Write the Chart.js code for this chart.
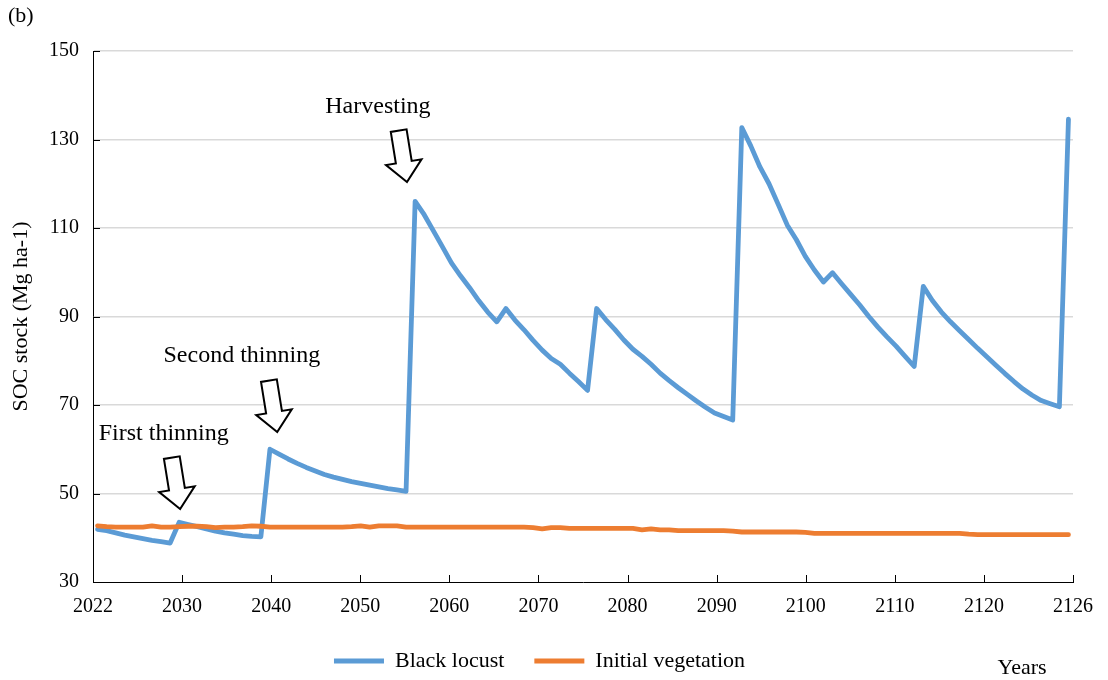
<!DOCTYPE html>
<html>
<head>
<meta charset="utf-8">
<script src="https://cdn.jsdelivr.net/npm/chart.js@4.4.1/dist/chart.umd.min.js"></script>
<style>
  html, body { margin: 0; padding: 0; background: #fff; }
</style>
</head>
<body>
<canvas id="grafico" width="1108" height="680"></canvas>
<script>
// simulated years (one point per year)
const anni = [
  2021, 2022, 2023, 2024, 2025, 2026, 2027, 2028, 2029, 2030,
  2031, 2032, 2033, 2034, 2035, 2036, 2037, 2038, 2039, 2040,
  2041, 2042, 2043, 2044, 2045, 2046, 2047, 2048, 2049, 2050,
  2051, 2052, 2053, 2054, 2055, 2056, 2057, 2058, 2059, 2060,
  2061, 2062, 2063, 2064, 2065, 2066, 2067, 2068, 2069, 2070,
  2071, 2072, 2073, 2074, 2075, 2076, 2077, 2078, 2079, 2080,
  2081, 2082, 2083, 2084, 2085, 2086, 2087, 2088, 2089, 2090,
  2091, 2092, 2093, 2094, 2095, 2096, 2097, 2098, 2099, 2100,
  2101, 2102, 2103, 2104, 2105, 2106, 2107, 2108, 2109, 2110,
  2111, 2112, 2113, 2114, 2115, 2116, 2117, 2118, 2119, 2120,
  2121, 2122, 2123, 2124, 2125, 2126, 2127, 2128
];

// SOC stock (Mg ha-1)
const blackLocust = [
  41.9, 41.6, 41.1, 40.6, 40.2, 39.8, 39.4, 39.1, 38.8, 43.5,
  43.0, 42.5, 42.0, 41.5, 41.1, 40.8, 40.5, 40.3, 40.2, 60.0,
  58.9, 57.8, 56.8, 55.9, 55.1, 54.3, 53.7, 53.2, 52.7, 52.3,
  51.9, 51.5, 51.1, 50.8, 50.5, 116.0, 113.0, 109.4, 105.8, 102.1,
  99.2, 96.5, 93.6, 91.0, 88.8, 91.8, 89.2, 87.0, 84.6, 82.4,
  80.5, 79.2, 77.2, 75.3, 73.3, 91.8, 89.3, 87.1, 84.7, 82.6,
  81.0, 79.2, 77.2, 75.5, 73.9, 72.4, 70.9, 69.5, 68.2, 67.4,
  66.6, 132.7, 128.5, 123.8, 120.0, 115.4, 110.7, 107.4, 103.6, 100.5,
  97.8, 99.9, 97.4, 95.0, 92.6, 90.0, 87.6, 85.4, 83.3, 81.0,
  78.7, 96.8, 93.6, 91.0, 88.8, 86.8, 84.8, 82.8, 80.9, 79.0,
  77.1, 75.3, 73.6, 72.2, 71.0, 70.3, 69.6, 134.6
];

const initialVegetation = [
  42.7, 42.5, 42.4, 42.4, 42.4, 42.4, 42.7, 42.4, 42.4, 42.5,
  42.6, 42.6, 42.5, 42.3, 42.4, 42.4, 42.5, 42.7, 42.6, 42.4,
  42.4, 42.4, 42.4, 42.4, 42.4, 42.4, 42.4, 42.4, 42.5, 42.7,
  42.4, 42.7, 42.7, 42.7, 42.4, 42.4, 42.4, 42.4, 42.4, 42.4,
  42.4, 42.4, 42.4, 42.4, 42.4, 42.4, 42.4, 42.4, 42.3, 42.0,
  42.3, 42.3, 42.1, 42.1, 42.1, 42.1, 42.1, 42.1, 42.1, 42.1,
  41.8, 42.0, 41.8, 41.8, 41.6, 41.6, 41.6, 41.6, 41.6, 41.6,
  41.5, 41.3, 41.3, 41.3, 41.3, 41.3, 41.3, 41.3, 41.2, 41.0,
  41.0, 41.0, 41.0, 41.0, 41.0, 41.0, 41.0, 41.0, 41.0, 41.0,
  41.0, 41.0, 41.0, 41.0, 41.0, 41.0, 40.8, 40.7, 40.7, 40.7,
  40.7, 40.7, 40.7, 40.7, 40.7, 40.7, 40.7, 40.7
];

// axis labels as printed on the original (evenly spaced marks)
const etichetteX = ["2022", "2030", "2040", "2050", "2060", "2070", "2080", "2090", "2100", "2110", "2120", "2126"];
const etichetteY = [30, 50, 70, 90, 110, 130, 150];

// management notes: text anchor and arrow tip, in data units
const noteTesto = ["First thinning", "Second thinning", "Harvesting"];
const noteAnno = [2028.3, 2036.9, 2051.9];
const noteValore = [63.5, 81.1, 137.4];
const frecciaAnno = [2030.1, 2040.8, 2055.1];
const frecciaValore = [46.5, 63.9, 120.4];

const FONT = '"Liberation Serif", "Times New Roman", serif';
const xMin = 2020.5, xMax = 2128.5;

function punti(valori) {
  return anni.map((a, i) => ({ x: a, y: valori[i] }));
}

const extra = {
  id: "extra",
  afterDraw(chart) {
    const ctx = chart.ctx;
    const xs = chart.scales.x, ys = chart.scales.y;
    const area = chart.chartArea;
    ctx.save();

    // tick marks pointing inside the plot
    ctx.strokeStyle = "#000";
    ctx.lineWidth = 1;
    ctx.beginPath();
    xs.ticks.forEach(t => {
      const px = Math.round(xs.getPixelForValue(t.value)) + 0.5;
      ctx.moveTo(px, area.bottom);
      ctx.lineTo(px, area.bottom - 7);
    });
    ys.ticks.forEach(t => {
      const py = Math.round(ys.getPixelForValue(t.value)) + 0.5;
      ctx.moveTo(area.left, py);
      ctx.lineTo(area.left + 7, py);
    });
    ctx.stroke();

    // notes
    ctx.fillStyle = "#000";
    ctx.font = "24px " + FONT;
    ctx.textAlign = "center";
    ctx.textBaseline = "middle";
    noteTesto.forEach((t, i) => {
      ctx.fillText(t, xs.getPixelForValue(noteAnno[i]), ys.getPixelForValue(noteValore[i]));
    });

    // hollow arrows
    frecciaAnno.forEach((a, i) => {
      const tx = xs.getPixelForValue(a);
      const ty = ys.getPixelForValue(frecciaValore[i]);
      ctx.save();
      ctx.translate(tx, ty);
      ctx.rotate(-0.16);
      ctx.beginPath();
      ctx.moveTo(0, 0);
      ctx.lineTo(-18, -20);
      ctx.lineTo(-8, -20);
      ctx.lineTo(-8, -52);
      ctx.lineTo(8, -52);
      ctx.lineTo(8, -20);
      ctx.lineTo(18, -20);
      ctx.closePath();
      ctx.fillStyle = "#fff";
      ctx.fill();
      ctx.lineWidth = 2;
      ctx.lineJoin = "miter";
      ctx.strokeStyle = "#000";
      ctx.stroke();
      ctx.restore();
    });

    // panel letter and x title
    ctx.font = "22px " + FONT;
    ctx.textAlign = "left";
    ctx.fillText("(b)", 8, 16);
    ctx.textAlign = "center";
    ctx.fillText("Years", area.right - 51, 668);
    ctx.restore();
  }
};

Chart.defaults.font.family = FONT;
Chart.defaults.color = "#000";

let ctx = document.getElementById("grafico").getContext("2d");
new Chart(ctx, {
  type: "line",
  data: {
    datasets: [
      {
        label: "Black locust",
        data: punti(blackLocust),
        borderColor: "#5B9BD5",
        backgroundColor: "#5B9BD5",
        borderWidth: 4.8,
        borderCapStyle: "round",
        borderJoinStyle: "round",
        pointRadius: 0,
        order: 1,
      },
      {
        label: "Initial vegetation",
        data: punti(initialVegetation),
        borderColor: "#ED7D31",
        backgroundColor: "#ED7D31",
        borderWidth: 4.8,
        borderCapStyle: "round",
        borderJoinStyle: "round",
        pointRadius: 0,
        order: 0,
      },
    ],
  },
  options: {
    responsive: false,
    animation: false,
    devicePixelRatio: 1,
    layout: { padding: { left: 6, right: 35, top: 51, bottom: 0 } },
    scales: {
      x: {
        type: "linear",
        min: xMin,
        max: xMax,
        grid: { display: false, drawTicks: false },
        border: { display: true, color: "#000", width: 1 },
        afterBuildTicks: (scale) => {
          const passo = (xMax - xMin) / (etichetteX.length - 1);
          scale.ticks = etichetteX.map((_, i) => ({ value: xMin + i * passo }));
        },
        afterFit: (scale) => { scale.height = 38; },
        ticks: {
          autoSkip: false,
          maxRotation: 0,
          padding: 13,
          font: { size: 20 },
          callback: (v, i) => etichetteX[i],
        },
      },
      y: {
        min: etichetteY[0],
        max: etichetteY[etichetteY.length - 1],
        grid: {
          color: (c) => (c.tick && c.tick.value === etichetteY[0] ? "rgba(0,0,0,0)" : "#d9d9d9"),
          lineWidth: 1.5,
          drawTicks: false,
        },
        border: { display: true, color: "#000", width: 1 },
        afterBuildTicks: (scale) => {
          scale.ticks = etichetteY.map(v => ({ value: v }));
        },
        afterFit: (scale) => { scale.width = 87; },
        ticks: { padding: 14, font: { size: 20 } },
        title: {
          display: true,
          text: "SOC stock (Mg ha-1)",
          font: { size: 22 },
          padding: { top: 2, bottom: 2 },
        },
      },
    },
    plugins: {
      tooltip: { enabled: false },
      legend: {
        position: "bottom",
        maxHeight: 60,
        labels: {
          usePointStyle: true,
          pointStyle: "line",
          pointStyleWidth: 50,
          padding: 30,
          font: { size: 22 },
          sort: (a, b) => a.datasetIndex - b.datasetIndex,
        },
      },
    },
  },
  plugins: [extra],
});
</script>
</body>
</html>
